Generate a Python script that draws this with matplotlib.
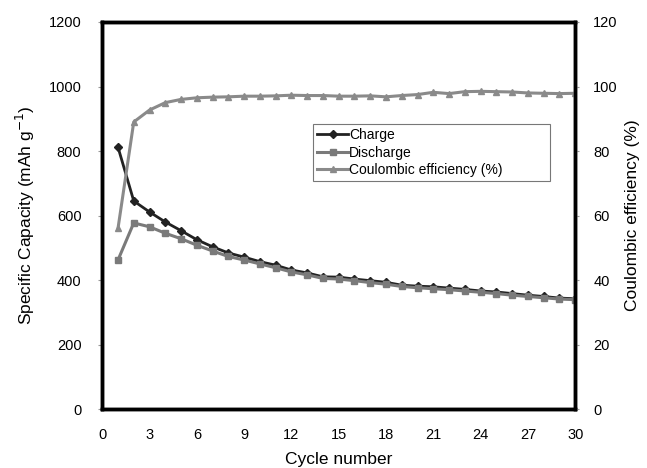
import matplotlib

matplotlib.use("Agg")
import matplotlib.pyplot as plt

# ---------------- DATA ----------------
cycles = list(range(1, 31))
charge = [812, 645, 611, 580, 553, 525, 503, 484, 471, 457,
          446, 431, 422, 410, 409, 403, 398, 393, 384, 381,
          379, 375, 371, 366, 363, 358, 353, 349, 344, 342]
discharge = [462, 577, 565, 545, 528, 508, 490, 473, 462, 450,
             438, 425, 416, 405, 403, 398, 392, 387, 380, 376,
             373, 370, 366, 362, 358, 353, 349, 345, 341, 339]
efficiency = [56.0, 89.0, 92.7, 95.0, 96.0, 96.5, 96.7, 96.8, 97.0, 97.0,
              97.1, 97.3, 97.2, 97.2, 97.0, 97.0, 97.1, 96.8, 97.2, 97.5,
              98.2, 97.8, 98.4, 98.5, 98.4, 98.3, 98.0, 97.9, 97.8, 97.9]

FONT = "Liberation Sans"
plt.rcParams["font.family"] = [FONT, "DejaVu Sans"]

# ---------------- PLOT ----------------
fig = plt.figure(figsize=(6.47, 4.68), dpi=100)
ax1 = fig.add_axes([0.158, 0.126, 0.731, 0.827])
ax2 = ax1.twinx()

(l1,) = ax1.plot(cycles, charge, color="#222222", lw=2, marker="D", ms=4,
                 label="Charge")
(l2,) = ax1.plot(cycles, discharge, color="#7a7a7a", lw=2.2, marker="s", ms=5,
                 label="Discharge")
(l3,) = ax2.plot(cycles, efficiency, color="#8a8a8a", lw=2.2, marker="^", ms=5,
                 label="Coulombic efficiency (%)")

ax1.set_xlim(0, 30)
ax1.set_ylim(0, 1200)
ax2.set_ylim(0, 120)
ax1.set_xticks(range(0, 31, 3))
ax1.set_yticks(range(0, 1201, 200))
ax2.set_yticks(range(0, 121, 20))

for ax in (ax1, ax2):
    for s in ax.spines.values():
        s.set_linewidth(2.5)
    ax.tick_params(axis="y", length=3, width=0.8, color="#999999",
                   labelsize=10.5, pad=12)
ax2.tick_params(axis="y", pad=10)
ax1.tick_params(axis="x", length=0, labelsize=10.5, pad=14)

ax1.set_xlabel("Cycle number", fontsize=12.5, labelpad=7)
ax1.set_ylabel("Specific Capacity (mAh g$^{-1}$)", fontsize=12.5, labelpad=8)
ax2.set_ylabel("Coulombic efficiency (%)", fontsize=12.5, labelpad=5)

leg = ax2.legend(handles=[l1, l2, l3], loc="upper left",
                 bbox_to_anchor=(0.446, 0.571, 0.501, 0.165), mode="expand",
                 fontsize=10, handlelength=2.2, handletextpad=0.1,
                 labelspacing=0.25, borderpad=0.3, borderaxespad=0,
                 fancybox=False, framealpha=1)
leg.get_frame().set_edgecolor("#777777")
leg.get_frame().set_linewidth(0.8)

fig.savefig("out.png", dpi=100)
